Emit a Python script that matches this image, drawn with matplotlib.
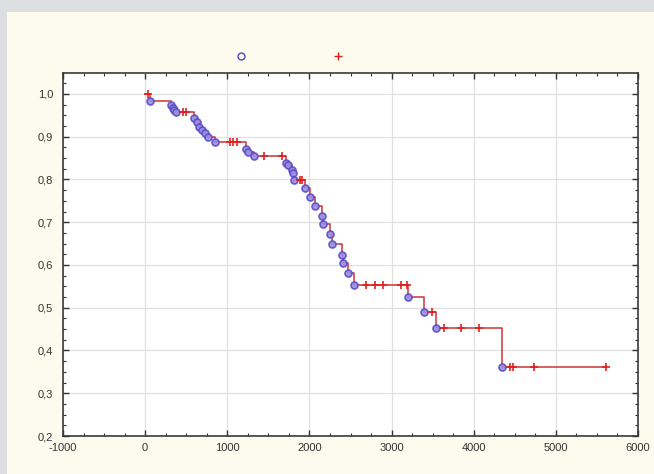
import numpy as np
import matplotlib
matplotlib.use('Agg')
from matplotlib import pyplot as plt
from matplotlib.lines import Line2D
from matplotlib.patches import Rectangle
from matplotlib.ticker import AutoMinorLocator, FuncFormatter

# event times (complete) and survival after each drop
event_t = [61, 316, 341, 353, 377, 596, 633, 657, 693, 730, 766, 852,
           1229, 1253, 1326, 1715, 1740, 1788, 1800, 1813, 1946, 2007,
           2068, 2153, 2165, 2251, 2275, 2397, 2409, 2470, 2543, 3200,
           3394, 3540, 4343]
event_s = [0.984, 0.974, 0.967, 0.963, 0.958, 0.944, 0.935, 0.923, 0.916,
           0.909, 0.900, 0.888, 0.871, 0.864, 0.855, 0.839, 0.834, 0.822,
           0.815, 0.799, 0.780, 0.759, 0.738, 0.715, 0.696, 0.673, 0.650,
           0.624, 0.605, 0.582, 0.554, 0.526, 0.491, 0.453, 0.362]

# censored times
cens_t = [36, 462, 499, 1034, 1071, 1119, 1448, 1667, 1886, 1910, 2689,
          2798, 2895, 3114, 3187, 3491, 3638, 3844, 4063, 4440, 4477,
          4732, 5608]

xticks = [-1000, 0, 1000, 2000, 3000, 4000, 5000, 6000]
yticks = [0.2, 0.3, 0.4, 0.5, 0.6, 0.7, 0.8, 0.9, 1.0]

plt.rcParams['font.family'] = ['Liberation Sans', 'DejaVu Sans']

fig = plt.figure(figsize=(6.54, 4.74), dpi=100)
fig.patch.set_facecolor('#fdfaee')
# grey page bands at top and left
fig.patches.append(Rectangle((0, 1 - 12 / 474), 1, 12 / 474, transform=fig.transFigure,
                             facecolor='#dcdee0', edgecolor='none', zorder=0))
fig.patches.append(Rectangle((0, 0), 7 / 654, 1, transform=fig.transFigure,
                             facecolor='#dcdee0', edgecolor='none', zorder=0))

ax = fig.add_axes([63 / 654, 1 - 436 / 474, 575 / 654, 363 / 474])
ax.set_facecolor('white')

# survival step line
et = np.array(event_t)
es = np.array(event_s)
ct = np.array(cens_t)
line_x = np.concatenate([[0], et, [ct.max()]])
line_y = np.concatenate([[1.0], es, [es[-1]]])
ax.step(line_x, line_y, where='post', color='#cc3535', lw=1.1, zorder=3)

# survival level at each censored time
idx = np.searchsorted(et, ct, side='right')
cs = np.where(idx == 0, 1.0, es[np.maximum(idx - 1, 0)])

ax.plot(et, es, 'o', ms=5, mfc='#9b90e0', mec='#5a4cc8', mew=1.2, alpha=0.9, zorder=4)
ax.plot(ct, cs, '+', ms=5.5, color='#e02020', mew=1.2, zorder=5)

ax.set_xlim(-1000, 6000)
ax.set_ylim(0.2, 1.049)
ax.set_xticks(xticks)
ax.set_yticks(yticks)
ax.xaxis.set_minor_locator(AutoMinorLocator(4))
ax.yaxis.set_minor_locator(AutoMinorLocator(4))
ax.xaxis.set_major_formatter(FuncFormatter(lambda v, p: '%d' % v))
ax.yaxis.set_major_formatter(FuncFormatter(lambda v, p: ('%.1f' % v).replace('.', ',')))

ax.tick_params(which='both', direction='in', top=True, right=True,
               labelsize=8, labelcolor='#333333', color='#333333')
ax.tick_params(which='major', length=4, width=1)
ax.tick_params(which='minor', length=2, width=0.8)
ax.tick_params(axis='x', pad=5)
ax.tick_params(axis='y', pad=7)
ax.grid(True, which='major', color='#e0e0e0', lw=0.9)
ax.set_axisbelow(True)
for sp in ax.spines.values():
    sp.set_color('#3a3a3a')
    sp.set_linewidth(1.2)

handles = [Line2D([], [], ls='none', marker='o', ms=5, mfc='none', mec='#4a4ac0', mew=1),
           Line2D([], [], ls='none', marker='+', ms=6, color='#e02020', mew=1)]
fig.legend(handles, ['', ''], ncol=2, loc='center', bbox_to_anchor=(289.5 / 654, 1 - 57 / 474),
           frameon=False, fontsize=8, handlelength=1, handletextpad=0, columnspacing=7.7)

fig.savefig('out.png', dpi=100, facecolor=fig.get_facecolor())
